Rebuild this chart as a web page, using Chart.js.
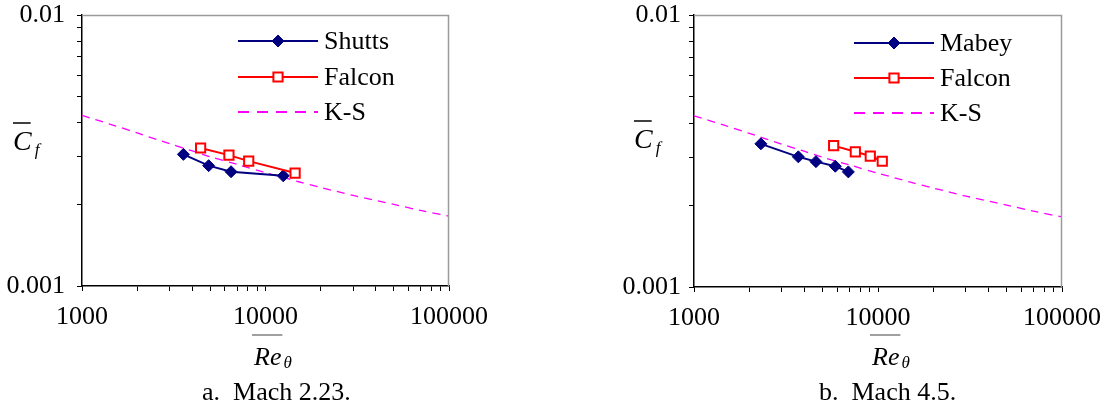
<!DOCTYPE html>
<html><head><meta charset="utf-8">
<script src="https://cdn.jsdelivr.net/npm/chart.js@4.4.1/dist/chart.umd.min.js"></script>
<style>
html,body{margin:0;padding:0;background:#fff;}
#wrap{position:relative;width:1104px;height:407px;overflow:hidden;background:#fff;}
.box{position:absolute;top:0;width:552px;height:407px;}
</style></head><body>
<div id="wrap">
<div class="box" style="left:0"><canvas id="c1" width="552" height="407"></canvas></div>
<div class="box" style="left:552px"><canvas id="c2" width="552" height="407"></canvas></div>
</div>
<script>
// ---- data ----
const xTicks = [1000,2000,3000,4000,5000,6000,7000,8000,9000,10000,20000,30000,40000,50000,60000,70000,80000,90000,100000];
const yTicks = [0.001,0.002,0.003,0.004,0.005,0.006,0.007,0.008,0.009,0.01];
const xLabels = [1000,10000,100000];
const yLabels = [0.001,0.01];

const ksRe = [1000,1500,2000,3000,4000,5000,7000,10000,15000,20000,30000,50000,70000,100000];
const ksCf = [0.00426,0.00391,0.00367,0.00335,0.00315,0.00300,0.00281,0.00262,0.00243,0.00231,0.00216,0.00200,0.00190,0.00181];

const shuttsRe = [3570,4900,6490,12500];
const shuttsCf = [0.00306,0.00278,0.00264,0.00255];
const falconARe = [4430,6320,8100,14500];
const falconACf = [0.00323,0.00304,0.00289,0.00261];

const mabeyRe = [2310,3690,4600,5860,6900];
const mabeyCf = [0.00336,0.00301,0.00289,0.00278,0.00265];
const falconBRe = [5740,7530,9080,10550];
const falconBCf = [0.00331,0.00314,0.00303,0.00290];

const FONT = "'Liberation Serif','Times New Roman',serif";
const pts = (xs, ys) => xs.map((x,i)=>({x:x, y:ys[i]}));
const near = (v, arr) => arr.some(a => Math.abs(v-a)/a < 1e-6);

function dsExp(label, xs, ys) {
  return {label, data: pts(xs, ys), borderColor:'#000080', backgroundColor:'#000080',
    borderWidth:2, pointStyle:'rectRot', pointRadius:6, pointBorderWidth:1, tension:0, order:1};
}
function dsFalcon(xs, ys) {
  return {label:'Falcon', data: pts(xs, ys), borderColor:'#ff0000', backgroundColor:'#ffffff',
    borderWidth:2, pointStyle:'rect', pointRadius:6.5, pointBorderWidth:2, tension:0, order:0};
}
function dsKS() {
  return {label:'K-S', data: pts(ksRe, ksCf), borderColor:'#ff00ff', backgroundColor:'#ff00ff',
    borderWidth:1.3, borderDash:[8,6], pointRadius:0, tension:0.3, order:2};
}

const decor = {
  id:'decor',
  afterDraw(chart, args, o) {
    const ctx = chart.ctx, a = chart.chartArea;
    ctx.save();
    // top/right frame
    ctx.strokeStyle = '#9a9a9a'; ctx.lineWidth = 1.5;
    ctx.beginPath(); ctx.moveTo(a.left, a.top+0.5); ctx.lineTo(a.right-0.5, a.top+0.5); ctx.lineTo(a.right-0.5, a.bottom); ctx.stroke();
    // legend
    const dss = chart.data.datasets;
    o.legendOrder.forEach((di, r) => {
      const ds = dss[di];
      const y = o.legendRows[r];
      const x0 = a.left + o.legendX, x1 = x0 + 80;
      ctx.strokeStyle = ds.borderColor;
      ctx.lineWidth = 2.2;
      ctx.setLineDash(ds.borderDash ? [11,8] : []);
      ctx.beginPath(); ctx.moveTo(x0, y); ctx.lineTo(x1, y); ctx.stroke();
      ctx.setLineDash([]);
      if (ds.pointRadius) {
        ctx.fillStyle = ds.backgroundColor; ctx.strokeStyle = ds.borderColor;
        ctx.lineWidth = ds.pointBorderWidth;
        Chart.helpers.drawPoint(ctx, {pointStyle: ds.pointStyle, radius: ds.pointRadius, rotation:0, borderWidth: ds.pointBorderWidth}, (x0+x1)/2, y);
      }
      ctx.fillStyle = '#000'; ctx.font = '26px ' + FONT; ctx.textBaseline = 'middle'; ctx.textAlign='left';
      ctx.fillText(ds.label, x1 + 6, y + 1);
    });
    // y title: C bar, sub f
    ctx.fillStyle = '#000'; ctx.textBaseline = 'alphabetic'; ctx.textAlign = 'left';
    const cx = a.left + o.cX, cy = o.cY;
    ctx.font = 'italic 28px ' + FONT;
    ctx.fillText('C', cx, cy);
    const cw = ctx.measureText('C').width;
    ctx.font = 'italic 17px ' + FONT;
    ctx.fillText('f', cx + cw + 3, cy + 5);
    ctx.strokeStyle = '#000'; ctx.lineWidth = 1.5;
    ctx.beginPath(); ctx.moveTo(cx, cy - 27); ctx.lineTo(cx + cw - 1, cy - 27); ctx.stroke();
    // x title: Re bar, sub theta
    const rx = a.left + o.reX, ry = 365;
    ctx.font = 'italic 26px ' + FONT;
    ctx.fillText('Re', rx, ry);
    const rw = ctx.measureText('Re').width;
    ctx.font = 'italic 17px ' + FONT;
    ctx.fillText('θ', rx + rw + 2, ry + 3);
    ctx.strokeStyle = '#808080'; ctx.lineWidth = 1.5;
    ctx.beginPath(); ctx.moveTo(rx - 2, 335); ctx.lineTo(rx + rw + 1, 335); ctx.stroke();
    // caption
    ctx.fillStyle = '#000'; ctx.font = '26px ' + FONT; ctx.textAlign = 'left';
    ctx.fillText(o.caption, a.left + o.capX, 400);
    ctx.restore();
  }
};

function makeChart(id, datasets, cfg) {
  const H = 407;
  return new Chart(document.getElementById(id), {
    type:'line',
    data:{datasets},
    plugins:[decor],
    options:{
      responsive:false, animation:false, devicePixelRatio:1,
      layout:{padding:{left:cfg.padLeft, right:cfg.padRight, top:15, bottom:0}},
      plugins:{legend:{display:false}, tooltip:{enabled:false}, decor:cfg.decor},
      scales:{
        x:{type:'logarithmic', min:1000, max:100000,
          afterBuildTicks: s => { s.ticks = xTicks.map(v=>({value:v})); },
          afterFit: s => { s.height = H - cfg.plotBottom; s.paddingLeft = 0; s.paddingRight = 0; },
          ticks:{autoSkip:false, maxRotation:0, minRotation:0, color:'#000', padding:11,
            font:{family:FONT, size:26},
            callback: v => near(v, xLabels) ? String(Math.round(v)) : ''},
          grid:{drawOnChartArea:false, drawTicks:true, tickLength:5, color:'#000', lineWidth:1},
          border:{color:'#000', width:1.5}},
        y:{type:'logarithmic', min:0.001, max:0.01,
          afterBuildTicks: s => { s.ticks = yTicks.map(v=>({value:v})); },
          afterFit: s => { s.width = cfg.axisW; s.paddingTop = 0; s.paddingBottom = 0; },
          ticks:{autoSkip:false, color:'#000', padding:cfg.yPad,
            font:{family:FONT, size:26},
            callback: v => near(v, [0.001]) ? '0.001' : (near(v,[0.01]) ? '0.01' : '')},
          grid:{drawOnChartArea:false, drawTicks:true, tickLength:5, color:'#000', lineWidth:1},
          border:{color:'#000', width:1.5}}
      }
    }
  });
}

makeChart('c1', [dsExp('Shutts', shuttsRe, shuttsCf), dsFalcon(falconARe, falconACf), dsKS()], {
  padLeft:0, padRight:103, axisW:82, plotBottom:286, yPad:12,
  decor:{legendOrder:[0,1,2], legendRows:[41,77,112], legendX:156, cX:-69, cY:150, reX:172, capX:120, caption:'a.  Mach 2.23.'}
});
makeChart('c2', [dsExp('Mabey', mabeyRe, mabeyCf), dsFalcon(falconBRe, falconBCf), dsKS()], {
  padLeft:60, padRight:42, axisW:82, plotBottom:287, yPad:8,
  decor:{legendOrder:[0,1,2], legendRows:[43,78,113], legendX:160, cX:-60, cY:148, reX:178, capX:125, caption:'b.  Mach 4.5.'}
});
</script>
</body></html>
